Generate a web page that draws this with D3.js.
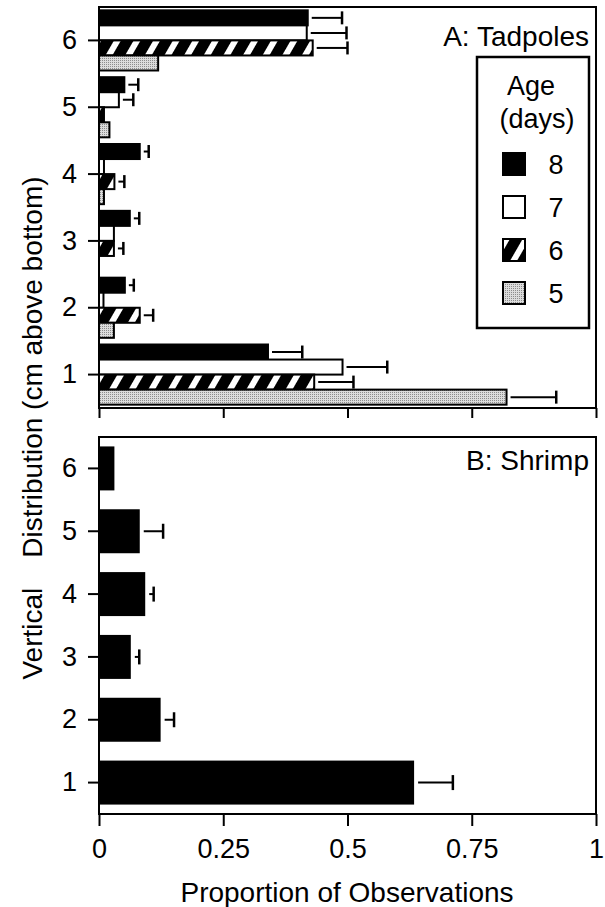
<!DOCTYPE html>
<html lang="en">
<head>
    <meta charset="UTF-8">
    <title>Vertical Distribution</title>
    <style>
        body { margin: 0; background: #fff; }
        svg text { font-family: "Liberation Sans", Arial, Helvetica, sans-serif; fill: #000; }
        .axis line { stroke: #000; stroke-width: 2; }
        .axis path { display: none; }
        .axis text { font-size: 27px; }
    </style>
    <script src="https://d3js.org/d3.v7.min.js"></script>
</head>
<body>
    <svg id="chart" width="605" height="907"></svg>
    <script>
        // positions (cm above bottom), listed top to bottom
        const positions = [6, 5, 4, 3, 2, 1];
        const ages = ["8", "7", "6", "5"];
        const xTicks = [0, 0.25, 0.5, 0.75, 1];

        // tadpole means and SE, indexed by position 1..6
        const tad8 = [0.34, 0.052, 0.062, 0.082, 0.051, 0.42];
        const tad8Err = [0.069, 0.018, 0.019, 0.018, 0.028, 0.069];
        const tad7 = [0.49, 0.009, 0.03, 0.01, 0.04, 0.418];
        const tad7Err = [0.09, 0, 0, 0, 0.029, 0.08];
        const tad6 = [0.433, 0.082, 0.03, 0.031, 0.01, 0.43];
        const tad6Err = [0.079, 0.027, 0.019, 0.02, 0, 0.07];
        const tad5 = [0.82, 0.03, 0, 0.01, 0.021, 0.119];
        const tad5Err = [0.1, 0, 0, 0, 0, 0];

        // shrimp
        const shrimp = [0.634, 0.124, 0.064, 0.093, 0.082, 0.031];
        const shrimpErr = [0.078, 0.027, 0.017, 0.017, 0.047, 0];

        const tadMeans = { "8": tad8, "7": tad7, "6": tad6, "5": tad5 };
        const tadErrs = { "8": tad8Err, "7": tad7Err, "6": tad6Err, "5": tad5Err };
        const fills = { "8": "#000", "7": "#fff", "6": "url(#hatch)", "5": "url(#stipple)" };

        const svg = d3.select("#chart");

        // patterns for the hatched and stippled bars
        const defs = svg.append("defs");
        const hatch = defs.append("pattern")
            .attr("id", "hatch")
            .attr("patternUnits", "userSpaceOnUse")
            .attr("width", 17).attr("height", 20)
            .attr("patternTransform", "rotate(30)");
        hatch.append("rect").attr("width", 17).attr("height", 20).attr("fill", "#000");
        hatch.append("rect").attr("width", 6).attr("height", 20).attr("fill", "#fff");

        const stip = defs.append("pattern")
            .attr("id", "stipple")
            .attr("patternUnits", "userSpaceOnUse")
            .attr("width", 2).attr("height", 2);
        stip.append("rect").attr("width", 2).attr("height", 2).attr("fill", "#dcdcdc");
        stip.append("rect").attr("width", 1).attr("height", 1).attr("fill", "#8c8c8c");

        const x = d3.scaleLinear().domain([0, 1]).range([99, 596]);

        // panel A: tadpoles
        const yA = d3.scaleBand().domain(positions).range([7, 408])
            .paddingInner(0.1).paddingOuter(0.05);
        const ySub = d3.scaleBand().domain(ages).range([0, yA.bandwidth()]);

        const tadRows = [];
        positions.forEach(p => {
            ages.forEach(a => {
                tadRows.push({ pos: p, age: a, v: tadMeans[a][p - 1], e: tadErrs[a][p - 1] });
            });
        });

        const gA = svg.append("g");
        gA.selectAll("rect.bar")
            .data(tadRows)
            .enter().append("rect")
            .attr("class", "bar")
            .attr("x", x(0))
            .attr("y", d => yA(d.pos) + ySub(d.age))
            .attr("width", d => x(d.v) - x(0))
            .attr("height", ySub.bandwidth())
            .attr("fill", d => fills[d.age])
            .attr("stroke", "#000")
            .attr("stroke-width", 2);

        function errorBars(g, rows, yOf, cap) {
            const eb = g.selectAll("g.err")
                .data(rows.filter(d => d.e > 0))
                .enter().append("g")
                .attr("class", "err");
            eb.append("line")
                .attr("x1", d => x(d.v) + 4)
                .attr("x2", d => x(d.v + d.e))
                .attr("y1", yOf).attr("y2", yOf)
                .attr("stroke", "#000").attr("stroke-width", 2);
            eb.append("line")
                .attr("x1", d => x(d.v + d.e))
                .attr("x2", d => x(d.v + d.e))
                .attr("y1", d => yOf(d) - cap / 2)
                .attr("y2", d => yOf(d) + cap / 2)
                .attr("stroke", "#000").attr("stroke-width", 2.5);
        }
        errorBars(gA, tadRows, d => yA(d.pos) + ySub(d.age) + ySub.bandwidth() / 2, 13);

        svg.append("g")
            .attr("class", "axis")
            .attr("transform", `translate(${x(0)},0)`)
            .call(d3.axisLeft(yA).tickSize(11).tickPadding(11));
        svg.append("g")
            .attr("class", "axis")
            .attr("transform", "translate(0,408)")
            .call(d3.axisBottom(x).tickValues(xTicks).tickSize(10).tickFormat(""));
        svg.append("rect")
            .attr("x", x(0)).attr("y", 7)
            .attr("width", x(1) - x(0)).attr("height", 401)
            .attr("fill", "none").attr("stroke", "#000").attr("stroke-width", 2);

        svg.append("text")
            .attr("x", 589).attr("y", 46)
            .attr("text-anchor", "end")
            .attr("font-size", 28)
            .text("A: Tadpoles");

        // legend
        const leg = svg.append("g");
        leg.append("rect")
            .attr("x", 477).attr("y", 57)
            .attr("width", 112).attr("height", 271)
            .attr("fill", "#fff").attr("stroke", "#000").attr("stroke-width", 2.5);
        leg.append("text").attr("x", 531).attr("y", 95)
            .attr("text-anchor", "middle").attr("font-size", 27).text("Age");
        leg.append("text").attr("x", 537).attr("y", 128)
            .attr("text-anchor", "middle").attr("font-size", 27).text("(days)");
        const legItem = leg.selectAll("g.item")
            .data(ages)
            .enter().append("g")
            .attr("class", "item")
            .attr("transform", (d, i) => `translate(503,${153 + i * 43})`);
        legItem.append("rect")
            .attr("width", 22).attr("height", 22)
            .attr("fill", d => fills[d])
            .attr("stroke", "#000").attr("stroke-width", 2);
        legItem.append("text")
            .attr("x", 53).attr("y", 21)
            .attr("text-anchor", "middle").attr("font-size", 27)
            .text(d => d);

        // panel B: shrimp
        const yB = d3.scaleBand().domain(positions).range([437, 814])
            .paddingInner(0.3).paddingOuter(0.15);
        const shrimpRows = positions.map(p => ({ pos: p, v: shrimp[p - 1], e: shrimpErr[p - 1] }));

        const gB = svg.append("g");
        gB.selectAll("rect.bar")
            .data(shrimpRows)
            .enter().append("rect")
            .attr("class", "bar")
            .attr("x", x(0))
            .attr("y", d => yB(d.pos))
            .attr("width", d => x(d.v) - x(0))
            .attr("height", yB.bandwidth())
            .attr("fill", "#000");
        errorBars(gB, shrimpRows, d => yB(d.pos) + yB.bandwidth() / 2, 15);

        svg.append("g")
            .attr("class", "axis")
            .attr("transform", `translate(${x(0)},0)`)
            .call(d3.axisLeft(yB).tickSize(11).tickPadding(11));
        svg.append("g")
            .attr("class", "axis")
            .attr("transform", "translate(0,814)")
            .call(d3.axisBottom(x).tickValues(xTicks).tickSize(12).tickPadding(13)
                .tickFormat(d => String(d)));
        svg.append("rect")
            .attr("x", x(0)).attr("y", 437)
            .attr("width", x(1) - x(0)).attr("height", 377)
            .attr("fill", "none").attr("stroke", "#000").attr("stroke-width", 2);

        svg.append("text")
            .attr("x", 589).attr("y", 470)
            .attr("text-anchor", "end")
            .attr("font-size", 28)
            .text("B: Shrimp");

        // axis titles
        svg.append("text")
            .attr("x", 347).attr("y", 902)
            .attr("text-anchor", "middle")
            .attr("font-size", 28)
            .text("Proportion of Observations");

        const yTitle = svg.append("text")
            .attr("transform", "translate(42,428) rotate(-90)")
            .attr("text-anchor", "middle")
            .attr("font-size", 28);
        yTitle.append("tspan").text("Vertical");
        yTitle.append("tspan").attr("dx", 30).text("Distribution (cm above bottom)");
    </script>
</body>
</html>
